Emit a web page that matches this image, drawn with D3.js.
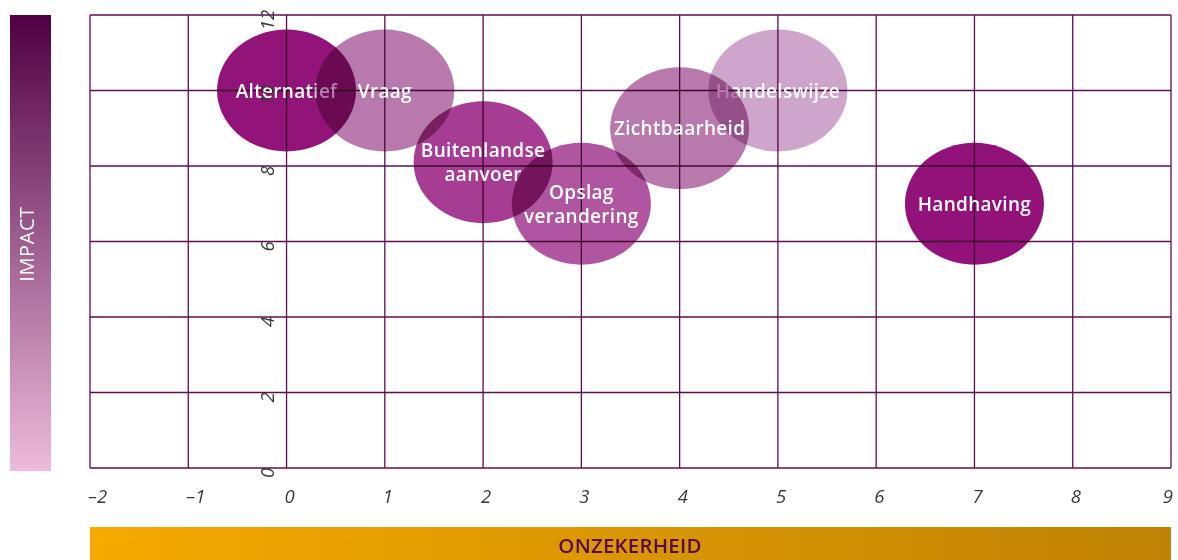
<!DOCTYPE html>
<html>
<head>
<meta charset="utf-8">
<script src="https://cdn.jsdelivr.net/npm/d3@7"></script>
<style>
  html, body { margin: 0; padding: 0; background: #fff; }
  svg { display: block; }
</style>
</head>
<body>
<svg id="chart" width="1178" height="560"></svg>
<script>
// ---- data ----
const labels = [
  ["Alternatief"],
  ["Vraag"],
  ["Opslag", "verandering"],
  ["Buitenlandse", "aanvoer"],
  ["Handelswijze"],
  ["Zichtbaarheid"],
  ["Handhaving"]
];
const onzekerheid = [0, 1, 3, 2, 5, 4, 7];
const impact = [10, 10, 7, 8.1, 10, 9, 7];
const bubbleColors = ["#931479", "#b87aac", "#b055a0", "#a63d93", "#cfa6cb", "#b87aac", "#93127a"];
const xTicks = [-2, -1, 0, 1, 2, 3, 4, 5, 6, 7, 8, 9];
const xTickLabels = ["–2", "–1", "0", "1", "2", "3", "4", "5", "6", "7", "8", "9"];
const yTicks = [0, 2, 4, 6, 8, 10, 12];
const yTickLabels = ["0", "2", "4", "6", "8", "10", "12"];
const xTitle = "ONZEKERHEID";
const yTitle = "IMPACT";

// ---- drawing ----
const svg = d3.select("#chart");
const x = d3.scaleLinear().domain([-2, 9]).range([90, 1171]);
const y = d3.scaleLinear().domain([0, 12]).range([468, 15]);
const defs = svg.append("defs");

const gV = defs.append("linearGradient").attr("id", "gImpact")
  .attr("x1", 0).attr("y1", 0).attr("x2", 0).attr("y2", 1);
gV.append("stop").attr("offset", "0%").attr("stop-color", "#4f0043");
gV.append("stop").attr("offset", "100%").attr("stop-color", "#ecbcda");

const gH = defs.append("linearGradient").attr("id", "gOnz")
  .attr("x1", 0).attr("y1", 0).attr("x2", 1).attr("y2", 0);
gH.append("stop").attr("offset", "0%").attr("stop-color", "#f5aa00");
gH.append("stop").attr("offset", "100%").attr("stop-color", "#bf8204");

// left impact bar
svg.append("rect").attr("x", 10).attr("y", 15).attr("width", 41).attr("height", 456)
  .attr("fill", "url(#gImpact)");
svg.append("text")
  .attr("transform", "translate(34,244) rotate(-90)")
  .attr("text-anchor", "middle")
  .attr("fill", "#fff")
  .attr("font-family", "'Open Sans', sans-serif")
  .attr("font-size", 20)
  .attr("letter-spacing", 0.6)
  .text(yTitle);

// bottom onzekerheid bar
svg.append("rect").attr("x", x(-2)).attr("y", 527).attr("width", x(9) - x(-2)).attr("height", 40)
  .attr("fill", "url(#gOnz)");
svg.append("text")
  .attr("x", 630).attr("y", 553)
  .attr("text-anchor", "middle")
  .attr("fill", "#5a0a4c")
  .attr("font-family", "'Open Sans', sans-serif")
  .attr("font-weight", 600)
  .attr("font-size", 20.5)
  .attr("letter-spacing", 0.2)
  .text(xTitle);

// grid
const grid = svg.append("g");
grid.selectAll("line.v").data(xTicks).join("line")
  .attr("x1", d => x(d)).attr("x2", d => x(d))
  .attr("y1", y(12)).attr("y2", y(0))
  .attr("stroke", "#5e0d4d").attr("stroke-width", 1.3);
grid.selectAll("line.h").data(yTicks).join("line")
  .attr("x1", x(-2)).attr("x2", x(9))
  .attr("y1", d => y(d)).attr("y2", d => y(d))
  .attr("stroke", "#5e0d4d").attr("stroke-width", 1.3);

// bubbles
const bubbles = svg.append("g");
labels.forEach((lab, i) => {
  const g = bubbles.append("g");
  const cx = x(onzekerheid[i]), cy = y(impact[i]);
  g.append("ellipse")
    .attr("cx", cx).attr("cy", cy)
    .attr("rx", 69.5).attr("ry", 61)
    .attr("fill", bubbleColors[i])
    .style("mix-blend-mode", "multiply");
  const t = g.append("text")
    .attr("text-anchor", "middle")
    .attr("fill", "#fff")
    .attr("font-family", "'Open Sans', sans-serif")
    .attr("font-weight", 600)
    .attr("font-size", 19)
    .attr("letter-spacing", 0.3);
  const n = lab.length;
  lab.forEach((line, k) => {
    t.append("tspan")
      .attr("x", cx)
      .attr("y", cy + 7 + (k - (n - 1) / 2) * 24)
      .text(line);
  });
});

// x tick labels
svg.append("g").selectAll("text").data(xTicks).join("text")
  .attr("x", (d, i) => i === xTicks.length - 1 ? x(d) + 2 : x(d) - 2)
  .attr("y", 503)
  .attr("text-anchor", (d, i) => i === xTicks.length - 1 ? "end" : "start")
  .attr("fill", "#3a3a3a")
  .attr("font-family", "'Open Sans', sans-serif")
  .attr("font-style", "italic")
  .attr("font-size", 18.5)
  .text((d, i) => xTickLabels[i]);

// y tick labels (rotated, along x = 0 line)
svg.append("g").selectAll("text").data(yTicks).join("text")
  .attr("transform", d => `translate(${x(0) - 13},${y(d) + 5}) rotate(-90)`)
  .attr("text-anchor", "middle")
  .attr("fill", "#3a3a3a")
  .attr("font-family", "'Open Sans', sans-serif")
  .attr("font-style", "italic")
  .attr("font-size", 18.5)
  .text((d, i) => yTickLabels[i]);
</script>
</body>
</html>
